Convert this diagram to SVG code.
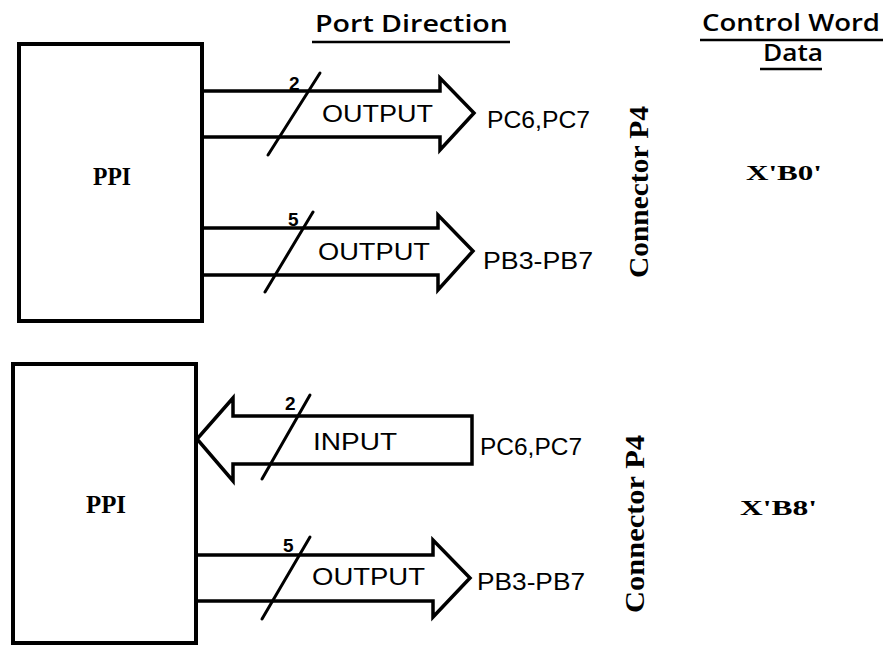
<svg xmlns="http://www.w3.org/2000/svg" width="883" height="646" viewBox="0 0 883 646">
<style>
.box{fill:none;stroke:#000;stroke-width:4}
.bus{fill:none;stroke:#000;stroke-width:3.5;stroke-linejoin:miter}
.slash{stroke:#000;stroke-width:3;stroke-linecap:round}
.ul{stroke:#000;stroke-width:2.5}
.lbl{font-family:"Liberation Sans",Arial,sans-serif;font-size:24px;fill:#000}
.hdr{font-family:"Open Sans","Liberation Sans",Arial,sans-serif;font-size:23px;font-weight:600;fill:#000}
.num{font-family:"Liberation Sans",Arial,sans-serif;font-size:19px;font-weight:bold;fill:#000}
.bs{font-family:"Liberation Serif","Times New Roman",serif;font-weight:bold;fill:#000}
</style>
<rect width="883" height="646" fill="#fff"/>
<g id="headers">
<text class="hdr" x="315" y="32" textLength="193" lengthAdjust="spacingAndGlyphs">Port Direction</text>
<line class="ul" x1="312" y1="42" x2="510" y2="42"/>
<text class="hdr" x="702" y="31" textLength="178" lengthAdjust="spacingAndGlyphs">Control Word</text>
<line class="ul" x1="700" y1="40" x2="883" y2="40"/>
<text class="hdr" x="763" y="61" textLength="60" lengthAdjust="spacingAndGlyphs">Data</text>
<line class="ul" x1="760" y1="69" x2="822" y2="69"/>
</g>
<g id="ppi1">
<rect class="box" x="19" y="44" width="183" height="277"/>
<text class="bs" x="93" y="185" font-size="25" textLength="38" lengthAdjust="spacingAndGlyphs">PPI</text>
</g>
<g id="ppi2">
<rect class="box" x="13" y="364" width="183" height="279"/>
<text class="bs" x="86" y="513" font-size="25" textLength="40" lengthAdjust="spacingAndGlyphs">PPI</text>
</g>
<g id="connectors">
<polyline class="bus" points="202,91 440,91 440,78 474,113 440,150 440,137 202,137"/>
<line class="slash" x1="268" y1="155" x2="320" y2="73"/>
<text class="num" x="289" y="90">2</text>
<text class="lbl" x="322" y="122" textLength="111" lengthAdjust="spacingAndGlyphs">OUTPUT</text>

<polyline class="bus" points="202,228 438,228 438,215 473,251 438,290 438,275 202,275"/>
<line class="slash" x1="265" y1="292" x2="313" y2="212"/>
<text class="num" x="288" y="226">5</text>
<text class="lbl" x="318" y="260" textLength="112" lengthAdjust="spacingAndGlyphs">OUTPUT</text>

<polygon class="bus" points="472,416 233,416 233,398 197,439 233,481 233,464 472,464"/>
<line class="slash" x1="262" y1="479" x2="310" y2="395"/>
<text class="num" x="285" y="410">2</text>
<text class="lbl" x="313" y="450" textLength="84" lengthAdjust="spacingAndGlyphs">INPUT</text>

<polyline class="bus" points="196,555 433,555 433,540 470,578 433,617 433,601 196,601"/>
<line class="slash" x1="262" y1="619" x2="310" y2="537"/>
<text class="num" x="283" y="552">5</text>
<text class="lbl" x="312" y="585" textLength="113" lengthAdjust="spacingAndGlyphs">OUTPUT</text>
</g>
<g id="pins">
<text class="lbl" x="487" y="128" textLength="103" lengthAdjust="spacingAndGlyphs">PC6,PC7</text>
<text class="lbl" x="483" y="269" textLength="110" lengthAdjust="spacingAndGlyphs">PB3-PB7</text>
<text class="lbl" x="480" y="455" textLength="102" lengthAdjust="spacingAndGlyphs">PC6,PC7</text>
<text class="lbl" x="477" y="590" textLength="108" lengthAdjust="spacingAndGlyphs">PB3-PB7</text>
</g>
<g id="conn1">
<text class="bs" font-size="28" transform="translate(648,278) rotate(-90)" textLength="172" lengthAdjust="spacingAndGlyphs">Connector  P4</text>
</g>
<g id="conn2">
<text class="bs" font-size="28" transform="translate(644,613) rotate(-90)" textLength="178" lengthAdjust="spacingAndGlyphs">Connector  P4</text>
</g>
<g id="cw1">
<text class="bs" x="746" y="180" font-size="22" textLength="76" lengthAdjust="spacingAndGlyphs">X'B0'</text>
</g>
<g id="cw2">
<text class="bs" x="740" y="515" font-size="22" textLength="77" lengthAdjust="spacingAndGlyphs">X'B8'</text>
</g>
</svg>
